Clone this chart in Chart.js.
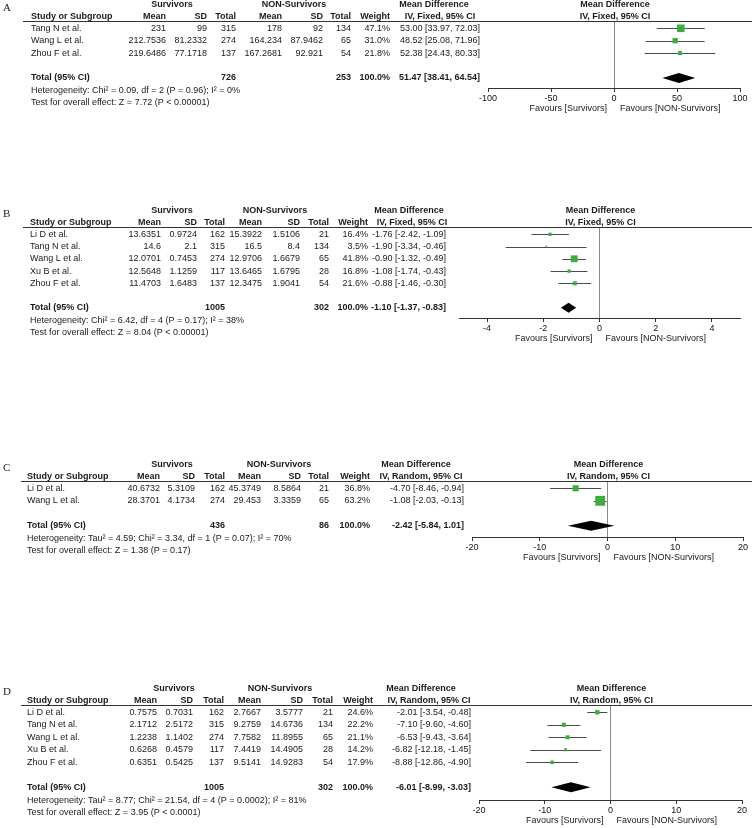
<!DOCTYPE html>
<html>
<head>
<meta charset="utf-8">
<script src="https://cdn.jsdelivr.net/npm/chart.js@4.4.1/dist/chart.umd.min.js"></script>
<style>
  body { margin: 0; background: #fff; width: 752px; height: 828px; position: relative; overflow: hidden; }
  canvas { position: absolute; left: 0; }
</style>
</head>
<body>
<canvas id="cA"></canvas>
<canvas id="cB"></canvas>
<canvas id="cC"></canvas>
<canvas id="cD"></canvas>
<script>
// ---------- data: panel A ----------
const studiesA = ['Tang N et al.', 'Wang L et al.', 'Zhou F et al.'];
const survMeanA = ['231', '212.7536', '219.6486'];
const survSdA = ['99', '81.2332', '77.1718'];
const survTotA = [315, 274, 137];
const nonMeanA = ['178', '164.234', '167.2681'];
const nonSdA = ['92', '87.9462', '92.921'];
const nonTotA = [134, 65, 54];
const weightA = [47.1, 31.0, 21.8];
const mdA = [53.00, 48.52, 52.38];
const loA = [33.97, 25.08, 24.43];
const hiA = [72.03, 71.96, 80.33];
const totalA = [726, 253, 51.47, 38.41, 64.54]; // n survivors, n non-survivors, md, lo, hi
const rangeA = [-100, 100];
const ticksA = [-100, -50, 0, 50, 100];
const hetA = 'Heterogeneity: Chi² = 0.09, df = 2 (P = 0.96); I² = 0%';
const testA = 'Test for overall effect: Z = 7.72 (P < 0.00001)';

// ---------- data: panel B ----------
const studiesB = ['Li D et al.', 'Tang N et al.', 'Wang L et al.', 'Xu B et al.', 'Zhou F et al.'];
const survMeanB = ['13.6351', '14.6', '12.0701', '12.5648', '11.4703'];
const survSdB = ['0.9724', '2.1', '0.7453', '1.1259', '1.6483'];
const survTotB = [162, 315, 274, 117, 137];
const nonMeanB = ['15.3922', '16.5', '12.9706', '13.6465', '12.3475'];
const nonSdB = ['1.5106', '8.4', '1.6679', '1.6795', '1.9041'];
const nonTotB = [21, 134, 65, 28, 54];
const weightB = [16.4, 3.5, 41.8, 16.8, 21.6];
const mdB = [-1.76, -1.90, -0.90, -1.08, -0.88];
const loB = [-2.42, -3.34, -1.32, -1.74, -1.46];
const hiB = [-1.09, -0.46, -0.49, -0.43, -0.30];
const totalB = [1005, 302, -1.10, -1.37, -0.83];
const rangeB = [-5, 5];
const ticksB = [-4, -2, 0, 2, 4];
const hetB = 'Heterogeneity: Chi² = 6.42, df = 4 (P = 0.17); I² = 38%';
const testB = 'Test for overall effect: Z = 8.04 (P < 0.00001)';

// ---------- data: panel C ----------
const studiesC = ['Li D et al.', 'Wang L et al.'];
const survMeanC = ['40.6732', '28.3701'];
const survSdC = ['5.3109', '4.1734'];
const survTotC = [162, 274];
const nonMeanC = ['45.3749', '29.453'];
const nonSdC = ['8.5864', '3.3359'];
const nonTotC = [21, 65];
const weightC = [36.8, 63.2];
const mdC = [-4.70, -1.08];
const loC = [-8.46, -2.03];
const hiC = [-0.94, -0.13];
const totalC = [436, 86, -2.42, -5.84, 1.01];
const rangeC = [-20, 20];
const ticksC = [-20, -10, 0, 10, 20];
const hetC = 'Heterogeneity: Tau² = 4.59; Chi² = 3.34, df = 1 (P = 0.07); I² = 70%';
const testC = 'Test for overall effect: Z = 1.38 (P = 0.17)';

// ---------- data: panel D ----------
const studiesD = ['Li D et al.', 'Tang N et al.', 'Wang L et al.', 'Xu B et al.', 'Zhou F et al.'];
const survMeanD = ['0.7575', '2.1712', '1.2238', '0.6268', '0.6351'];
const survSdD = ['0.7031', '2.5172', '1.1402', '0.4579', '0.5425'];
const survTotD = [162, 315, 274, 117, 137];
const nonMeanD = ['2.7667', '9.2759', '7.7582', '7.4419', '9.5141'];
const nonSdD = ['3.5777', '14.6736', '11.8955', '14.4905', '14.9283'];
const nonTotD = [21, 134, 65, 28, 54];
const weightD = [24.6, 22.2, 21.1, 14.2, 17.9];
const mdD = [-2.01, -7.10, -6.53, -6.82, -8.88];
const loD = [-3.54, -9.60, -9.43, -12.18, -12.86];
const hiD = [-0.48, -4.60, -3.64, -1.45, -4.90];
const totalD = [1005, 302, -6.01, -8.99, -3.03];
const rangeD = [-20, 20];
const ticksD = [-20, -10, 0, 10, 20];
const hetD = 'Heterogeneity: Tau² = 8.77; Chi² = 21.54, df = 4 (P = 0.0002); I² = 81%';
const testD = 'Test for overall effect: Z = 3.95 (P < 0.0001)';

const colHeads = ['Mean', 'SD', 'Total', 'Mean', 'SD', 'Total', 'Weight'];

// ---------- layout (pixel positions) ----------
const FONT = '"Liberation Sans", Arial, Helvetica, sans-serif';
Chart.defaults.font.family = FONT;
Chart.defaults.font.size = 9;
Chart.defaults.color = '#111';

const layA = { letter: 'A', lineY: 21, gap: 12.4, axisY: 88, plotL: 488, plotR: 740, studyX: 31, lineX: 23,
  cols: [166, 207, 236, 282, 323, 351, 390, 480], grp: [172, 294], mdHead: [434, 440] };
const layB = { letter: 'B', lineY: 227, gap: 12.25, axisY: 318, plotL: 459, plotR: 740, studyX: 30, lineX: 23,
  cols: [161, 197, 225, 262, 300, 329, 368, 446], grp: [172, 275], mdHead: [409, 412] };
const layC = { letter: 'C', lineY: 481, gap: 12.5, axisY: 537, plotL: 472, plotR: 743, studyX: 27, lineX: 21,
  cols: [160, 195, 225, 261, 301, 329, 370, 464], grp: [172, 279], mdHead: [416, 421] };
const layD = { letter: 'D', lineY: 705, gap: 12.5, axisY: 800, plotL: 479, plotR: 742, studyX: 27, lineX: 21,
  cols: [157, 193, 224, 261, 303, 333, 373, 471], grp: [174, 280], mdHead: [421, 429] };

const ciText = (m, l, h) => `${m.toFixed(2)} [${l.toFixed(2)}, ${h.toFixed(2)}]`;

function makePanel(canvasId, d, lay) {
  const top = Math.max(0, lay.lineY - 26);
  const axisH = 14;
  const H = lay.axisY - top + 36;
  const r0 = 7.3;
  const canvas = document.getElementById(canvasId);
  canvas.width = 752;
  canvas.height = H;
  canvas.style.top = top + 'px';
  const n = d.studies.length;
  const totIdx = n + 1;

  const forest = {
    id: 'forest',
    beforeDatasetsDraw(chart) {
      const { ctx, chartArea: a, scales: { x, y } } = chart;
      ctx.save();
      ctx.lineWidth = 1;
      ctx.strokeStyle = '#333';
      ctx.beginPath();
      ctx.moveTo(lay.lineX, Math.round(a.top) + 0.5);
      ctx.lineTo(752, Math.round(a.top) + 0.5);
      ctx.stroke();
      // confidence intervals
      ctx.strokeStyle = '#4a4a4a';
      d.lo.forEach((lo, i) => {
        const yy = Math.round(y.getPixelForValue(i)) + 0.5;
        ctx.beginPath();
        ctx.moveTo(x.getPixelForValue(lo), yy);
        ctx.lineTo(x.getPixelForValue(d.hi[i]), yy);
        ctx.stroke();
      });
      // pooled diamond
      const ty = y.getPixelForValue(totIdx);
      ctx.fillStyle = '#000';
      ctx.beginPath();
      ctx.moveTo(x.getPixelForValue(d.total[3]), ty);
      ctx.lineTo(x.getPixelForValue(d.total[2]), ty - 5);
      ctx.lineTo(x.getPixelForValue(d.total[4]), ty);
      ctx.lineTo(x.getPixelForValue(d.total[2]), ty + 5);
      ctx.closePath();
      ctx.fill();
      ctx.restore();
    },
    afterDraw(chart) {
      const { ctx, chartArea: a, scales: { x, y } } = chart;
      const bold = 'bold 9px ' + FONT, reg = '9px ' + FONT;
      const hy1 = a.top - 16, hy2 = a.top - 4.5;
      const zx = x.getPixelForValue(0);
      ctx.save();
      ctx.fillStyle = '#1a1a1a';
      ctx.textBaseline = 'middle';

      ctx.font = '11px "Liberation Serif", "Times New Roman", serif';
      ctx.textAlign = 'left';
      ctx.fillText(lay.letter, 3, a.top - 13);

      ctx.font = bold;
      ctx.textAlign = 'center';
      ctx.fillText('Survivors', lay.grp[0], hy1);
      ctx.fillText('NON-Survivors', lay.grp[1], hy1);
      ctx.fillText('Mean Difference', lay.mdHead[0], hy1);
      ctx.fillText(d.method, lay.mdHead[1], hy2);
      ctx.fillText('Mean Difference', zx + 1, hy1);
      ctx.fillText(d.method, zx + 1, hy2);
      ctx.textAlign = 'left';
      ctx.fillText('Study or Subgroup', lay.studyX, hy2);
      ctx.textAlign = 'right';
      colHeads.forEach((h, k) => ctx.fillText(h, lay.cols[k], hy2));

      ctx.font = reg;
      d.studies.forEach((s, i) => {
        const yy = y.getPixelForValue(i);
        ctx.textAlign = 'left';
        ctx.fillText(s, lay.studyX, yy);
        ctx.textAlign = 'right';
        const cells = [d.sMean[i], d.sSd[i], d.sTot[i], d.nMean[i], d.nSd[i], d.nTot[i],
          d.w[i].toFixed(1) + '%', ciText(d.md[i], d.lo[i], d.hi[i])];
        cells.forEach((c, k) => ctx.fillText(String(c), lay.cols[k], yy));
      });

      const ty = y.getPixelForValue(totIdx);
      ctx.font = bold;
      ctx.textAlign = 'left';
      ctx.fillText('Total (95% CI)', lay.studyX, ty);
      ctx.textAlign = 'right';
      ctx.fillText(String(d.total[0]), lay.cols[2], ty);
      ctx.fillText(String(d.total[1]), lay.cols[5], ty);
      ctx.fillText('100.0%', lay.cols[6], ty);
      ctx.fillText(ciText(d.total[2], d.total[3], d.total[4]), lay.cols[7], ty);

      ctx.font = reg;
      ctx.textAlign = 'left';
      ctx.fillText(d.het, lay.studyX, ty + 13);
      ctx.fillText(d.test, lay.studyX, ty + 25);

      ctx.textAlign = 'right';
      ctx.fillText('Favours [Survivors]', zx - 7, a.bottom + 21);
      ctx.textAlign = 'left';
      ctx.fillText('Favours [NON-Survivors]', zx + 6, a.bottom + 21);
      ctx.restore();
    }
  };

  new Chart(canvas, {
    type: 'scatter',
    data: {
      datasets: [{
        data: d.md.map((v, i) => ({ x: v, y: i })),
        pointStyle: 'rect',
        pointRadius: d.w.map(w => (1 + 0.14 * w) / Math.SQRT2),
        pointHoverRadius: d.w.map(w => (1 + 0.14 * w) / Math.SQRT2),
        backgroundColor: '#3dae3d',
        borderWidth: 0
      }]
    },
    options: {
      responsive: false,
      animation: false,
      devicePixelRatio: 1,
      events: [],
      layout: {
        padding: {
          left: lay.plotL,
          right: 752 - lay.plotR,
          top: lay.lineY - top,
          bottom: H - (lay.axisY - top) - axisH
        }
      },
      plugins: { legend: { display: false }, tooltip: { enabled: false } },
      scales: {
        x: {
          type: 'linear',
          min: d.range[0],
          max: d.range[1],
          afterBuildTicks: s => { s.ticks = d.ticks.map(v => ({ value: v })); },
          afterFit: s => { s.height = axisH; },
          grid: {
            drawOnChartArea: true,
            color: c => (c.tick && c.tick.value === 0 ? '#8a8a8a' : 'rgba(0,0,0,0)'),
            tickColor: '#333',
            tickLength: 4
          },
          border: { color: '#333', width: 1 },
          ticks: { padding: 1, color: '#111', font: { size: 9 }, maxRotation: 0, autoSkip: false, callback: v => String(v) }
        },
        y: {
          type: 'linear',
          display: false,
          reverse: true,
          min: -r0 / lay.gap,
          max: (lay.axisY - lay.lineY - r0) / lay.gap
        }
      }
    },
    plugins: [forest]
  });
}

makePanel('cA', { studies: studiesA, sMean: survMeanA, sSd: survSdA, sTot: survTotA, nMean: nonMeanA, nSd: nonSdA,
  nTot: nonTotA, w: weightA, md: mdA, lo: loA, hi: hiA, total: totalA, range: rangeA, ticks: ticksA,
  het: hetA, test: testA, method: 'IV, Fixed, 95% CI' }, layA);
makePanel('cB', { studies: studiesB, sMean: survMeanB, sSd: survSdB, sTot: survTotB, nMean: nonMeanB, nSd: nonSdB,
  nTot: nonTotB, w: weightB, md: mdB, lo: loB, hi: hiB, total: totalB, range: rangeB, ticks: ticksB,
  het: hetB, test: testB, method: 'IV, Fixed, 95% CI' }, layB);
makePanel('cC', { studies: studiesC, sMean: survMeanC, sSd: survSdC, sTot: survTotC, nMean: nonMeanC, nSd: nonSdC,
  nTot: nonTotC, w: weightC, md: mdC, lo: loC, hi: hiC, total: totalC, range: rangeC, ticks: ticksC,
  het: hetC, test: testC, method: 'IV, Random, 95% CI' }, layC);
makePanel('cD', { studies: studiesD, sMean: survMeanD, sSd: survSdD, sTot: survTotD, nMean: nonMeanD, nSd: nonSdD,
  nTot: nonTotD, w: weightD, md: mdD, lo: loD, hi: hiD, total: totalD, range: rangeD, ticks: ticksD,
  het: hetD, test: testD, method: 'IV, Random, 95% CI' }, layD);
</script>
</body>
</html>
